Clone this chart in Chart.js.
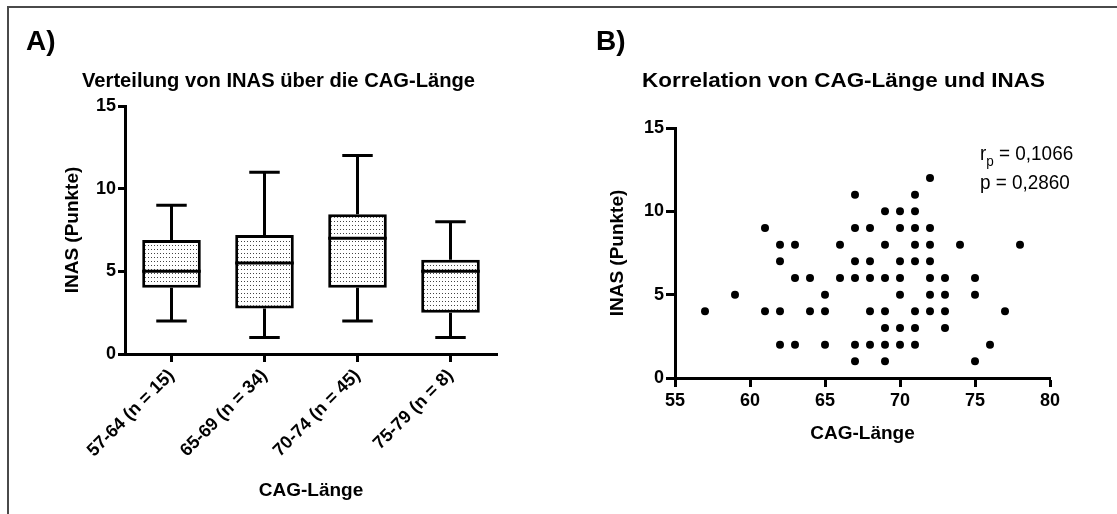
<!DOCTYPE html>
<html><head><meta charset="utf-8">
<script src="https://cdn.jsdelivr.net/npm/chart.js@4"></script>
<style>
html,body{margin:0;padding:0;background:#fff;}
body{width:1117px;height:514px;position:relative;overflow:hidden;}
#frame{position:absolute;left:7px;top:6px;right:-4px;bottom:-4px;border-top:2px solid #4a4a4a;border-left:2px solid #4a4a4a;}
#c1{position:absolute;left:0;top:0;}
#c2{position:absolute;left:555px;top:0;}
</style></head><body>
<div id="frame"></div>
<canvas id="c1" width="555" height="514"></canvas>
<canvas id="c2" width="562" height="514"></canvas>
<script>
// ---- Data: panel A (box plot) ----
const groupLabels = ['57-64 (n = 15)', '65-69 (n = 34)', '70-74 (n = 45)', '75-79 (n = 8)'];
const boxMin    = [2, 1, 2, 1];
const boxQ1     = [4, 2.75, 4, 2.5];
const boxMedian = [5, 5.5, 7, 5];
const boxQ3     = [6.9, 7.2, 8.45, 5.7];
const boxMax    = [9, 11, 12, 8];
const yTickValues = [0, 5, 10, 15];

// ---- Data: panel B (scatter) ----
const cagLength = [57, 59, 61, 61, 62, 62, 62, 62, 63, 63, 63, 64, 64, 65, 65, 65, 66, 66,
  67, 67, 67, 67, 67, 67, 68, 68, 68, 68, 68, 69, 69, 69, 69, 69, 69, 69,
  70, 70, 70, 70, 70, 70, 70, 71, 71, 71, 71, 71, 71, 71, 71,
  72, 72, 72, 72, 72, 72, 72, 73, 73, 73, 73, 74, 75, 75, 75, 76, 77, 78];
const inasScore = [4, 5, 9, 4, 8, 7, 4, 2, 8, 6, 2, 6, 4, 5, 4, 2, 8, 6,
  11, 9, 7, 6, 2, 1, 9, 7, 6, 4, 2, 10, 8, 6, 4, 3, 2, 1,
  10, 9, 7, 6, 5, 3, 2, 11, 10, 9, 8, 7, 4, 3, 2,
  12, 9, 8, 7, 6, 5, 4, 6, 5, 4, 3, 8, 6, 5, 1, 2, 4, 8];
const xTickValues = [55, 60, 65, 70, 75, 80];
const rpText = '0,1066';
const pText = '0,2860';

const FAM = '"Liberation Sans", Arial, Helvetica, sans-serif';

function dotPattern() {
  const pc = document.createElement('canvas');
  pc.width = 3; pc.height = 4;
  const p = pc.getContext('2d');
  p.fillStyle = '#fff'; p.fillRect(0, 0, 3, 4);
  p.fillStyle = '#444'; p.fillRect(1, 1, 1, 1);
  return document.getElementById('c1').getContext('2d').createPattern(pc, 'repeat');
}

function drawScaledText(ctx, text, x, y, font, targetWidth, color) {
  ctx.save();
  ctx.font = font;
  ctx.fillStyle = color || '#000';
  ctx.textBaseline = 'alphabetic';
  ctx.textAlign = 'left';
  const w = ctx.measureText(text).width;
  const sx = targetWidth ? targetWidth / w : 1;
  ctx.translate(x, y);
  ctx.scale(sx, 1);
  ctx.fillText(text, 0, 0);
  ctx.restore();
}

const boxPlugin = {
  id: 'boxPlugin',
  afterDatasetsDraw(chart) {
    const {ctx, scales: {x, y}} = chart;
    const meta = chart.getDatasetMeta(0);
    ctx.save();
    ctx.strokeStyle = '#000';
    ctx.lineWidth = 3;
    meta.data.forEach((bar, i) => {
      const cx = x.getPixelForValue(i);
      const half = bar.width / 2;
      const cap = half * 0.52;
      const pMin = y.getPixelForValue(boxMin[i]);
      const pQ1 = y.getPixelForValue(boxQ1[i]);
      const pMed = y.getPixelForValue(boxMedian[i]);
      const pQ3 = y.getPixelForValue(boxQ3[i]);
      const pMax = y.getPixelForValue(boxMax[i]);
      ctx.beginPath();
      ctx.moveTo(cx, pQ3); ctx.lineTo(cx, pMax);
      ctx.moveTo(cx - cap, pMax); ctx.lineTo(cx + cap, pMax);
      ctx.moveTo(cx, pQ1); ctx.lineTo(cx, pMin);
      ctx.moveTo(cx - cap, pMin); ctx.lineTo(cx + cap, pMin);
      ctx.moveTo(cx - half, pMed); ctx.lineTo(cx + half, pMed);
      ctx.stroke();
    });
    ctx.restore();
  },
  afterDraw(chart) {
    const ctx = chart.ctx;
    drawScaledText(ctx, 'A)', 26, 50, 'bold 28px ' + FAM, 0);
    drawScaledText(ctx, 'Verteilung von INAS über die CAG-Länge', 82, 87, 'bold 21px ' + FAM, 393);
  }
};

const scatterPlugin = {
  id: 'scatterPlugin',
  afterDraw(chart) {
    const ctx = chart.ctx;
    drawScaledText(ctx, 'B)', 41, 50, 'bold 28px ' + FAM, 0);
    drawScaledText(ctx, 'Korrelation von CAG-Länge und INAS', 87, 87, 'bold 21px ' + FAM, 403);
    // annotation
    ctx.save();
    ctx.fillStyle = '#000';
    ctx.textBaseline = 'alphabetic';
    const sx = 0.9;
    ctx.translate(425, 0);
    ctx.scale(sx, 1);
    ctx.font = '21px ' + FAM;
    ctx.fillText('r', 0, 160);
    let w = ctx.measureText('r').width;
    ctx.font = '15px ' + FAM;
    ctx.fillText('p', w, 166);
    w += ctx.measureText('p').width;
    ctx.font = '21px ' + FAM;
    ctx.fillText(' = ' + rpText, w, 160);
    ctx.fillText('p = ' + pText, 0, 189);
    ctx.restore();
  }
};

const tickFont = (size) => ({family: FAM, size: size, weight: 'bold'});
const titleFont = {family: FAM, size: 19, weight: 'bold'};

new Chart(document.getElementById('c1'), {
  type: 'bar',
  data: {
    labels: groupLabels,
    datasets: [{
      data: groupLabels.map((_, i) => [boxQ1[i], boxQ3[i]]),
      backgroundColor: dotPattern(),
      borderColor: '#000',
      borderWidth: 3,
      borderSkipped: false,
      barPercentage: 0.63,
      categoryPercentage: 1
    }]
  },
  options: {
    responsive: false,
    animation: false,
    events: [],
    layout: {padding: {left: 57, right: 58, top: 106, bottom: 8}},
    plugins: {legend: {display: false}, tooltip: {enabled: false}, title: {display: false}},
    scales: {
      x: {
        grid: {display: true, drawOnChartArea: false, offset: false, tickLength: 8, tickWidth: 3, tickColor: '#000'},
        border: {display: true, width: 3, color: '#000'},
        ticks: {color: '#000', font: tickFont(18), minRotation: 45, maxRotation: 45, padding: 3, autoSkip: false},
        title: {display: true, text: 'CAG-Länge', color: '#000', font: titleFont, padding: {top: 4, bottom: 4}},
        afterFit(s) { s.height = 152; }
      },
      y: {
        min: 0, max: 15,
        afterBuildTicks(s) { s.ticks = yTickValues.map(v => ({value: v})); },
        grid: {display: true, drawOnChartArea: false, tickLength: 7, tickWidth: 3, tickColor: '#000'},
        border: {display: true, width: 3, color: '#000'},
        ticks: {color: '#000', font: tickFont(18), padding: 2},
        title: {display: true, text: 'INAS (Punkte)', color: '#000', font: titleFont, padding: {top: 4, bottom: 4}},
        afterFit(s) { s.width = 68; }
      }
    }
  },
  plugins: [boxPlugin]
});

new Chart(document.getElementById('c2'), {
  type: 'scatter',
  data: {
    datasets: [{
      data: cagLength.map((v, i) => ({x: v, y: inasScore[i]})),
      pointRadius: 4,
      pointHoverRadius: 4,
      pointBackgroundColor: '#000',
      pointBorderWidth: 0,
      clip: false
    }]
  },
  options: {
    responsive: false,
    animation: false,
    events: [],
    layout: {padding: {left: 47, right: 67, top: 128, bottom: 65}},
    plugins: {legend: {display: false}, tooltip: {enabled: false}, title: {display: false}},
    scales: {
      x: {
        type: 'linear', min: 55, max: 80,
        afterBuildTicks(s) { s.ticks = xTickValues.map(v => ({value: v})); },
        grid: {display: true, drawOnChartArea: false, tickLength: 9, tickWidth: 3, tickColor: '#000'},
        border: {display: true, width: 3, color: '#000'},
        ticks: {color: '#000', font: tickFont(18), padding: 3, maxRotation: 0},
        title: {display: true, text: 'CAG-Länge', color: '#000', font: titleFont, padding: {top: 4, bottom: 4}},
        afterFit(s) { s.height = 71; }
      },
      y: {
        type: 'linear', min: 0, max: 15,
        afterBuildTicks(s) { s.ticks = yTickValues.map(v => ({value: v})); },
        grid: {display: true, drawOnChartArea: false, tickLength: 9, tickWidth: 3, tickColor: '#000'},
        border: {display: true, width: 3, color: '#000'},
        ticks: {color: '#000', font: tickFont(18), padding: 2},
        title: {display: true, text: 'INAS (Punkte)', color: '#000', font: titleFont, padding: {top: 4, bottom: 4}},
        afterFit(s) { s.width = 73; }
      }
    }
  },
  plugins: [scatterPlugin]
});
</script>
</body></html>
